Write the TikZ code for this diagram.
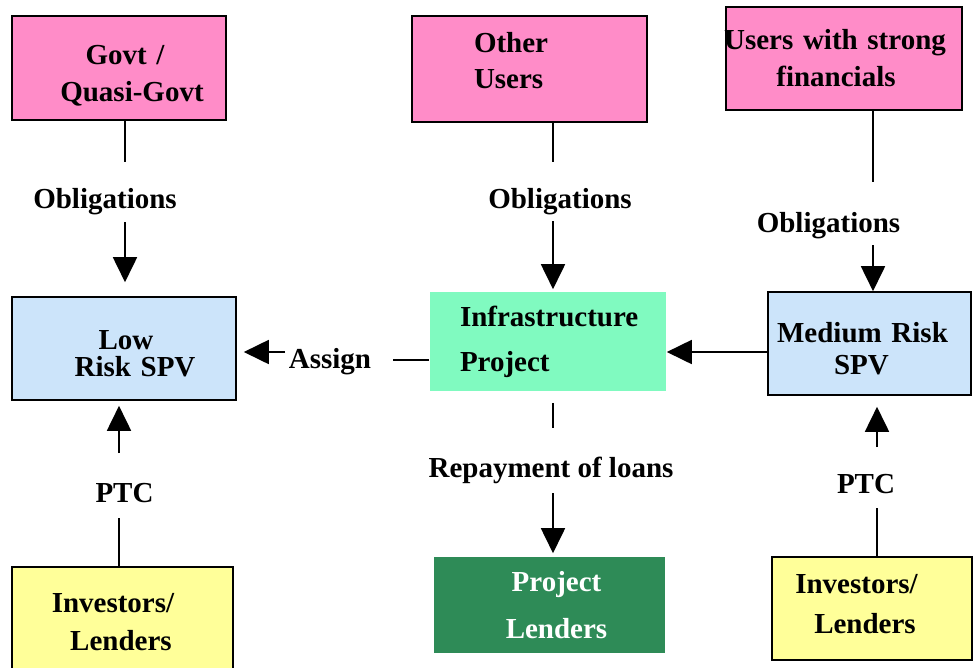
\documentclass[tikz,border=0pt]{standalone}
\usepackage{fontspec}
\setmainfont{Liberation Serif}
\usetikzlibrary{arrows.meta}
\setlength{\parindent}{0pt}
\definecolor{pinkc}{RGB}{255,140,200}
\definecolor{bluec}{RGB}{204,228,250}
\definecolor{aquac}{RGB}{128,250,192}
\definecolor{darkg}{RGB}{46,139,87}
\definecolor{yellowc}{RGB}{255,255,153}
\newcommand{\upstrut}[1]{\rule{0pt}{#1}}
\newcommand{\downstrut}[1]{\rule[-#1]{0pt}{1pt}}
\begin{document}
\begin{tikzpicture}[x=1pt,y=-1pt,
  txt/.style={font=\bfseries\fontsize{29}{29}\selectfont},
  box/.style={txt, draw=black, line width=1.6pt, inner sep=0pt, align=center},
  lbl/.style={txt, anchor=base, inner sep=0pt},
  conn/.style={line width=1.8pt},
  arr/.style={conn, -{Triangle[length=25pt,width=24pt]}}]
\useasboundingbox[fill=white] (0,0) rectangle (973,667);

% boxes
\node[box, fill=pinkc, minimum width=214pt, minimum height=104pt, text width=214pt] (govt) at (119,68)
  {\hspace*{12pt}\upstrut{35pt}Govt /\\[8pt]\hspace*{26pt}Quasi-Govt};
\node[box, fill=pinkc, minimum width=235pt, minimum height=106pt, text width=235pt, align=left] (other) at (529.5,69)
  {\hspace*{62pt}Other\\[7pt]\hspace*{62pt}Users\downstrut{18pt}};
\node[box, fill=pinkc, minimum width=236pt, minimum height=103pt, text width=236pt] (strong) at (844,58.5)
  {\hspace*{-18pt}Users with strong\\[8pt]\hspace*{-16pt}financials};
\node[box, fill=bluec, minimum width=224pt, minimum height=103pt, text width=224pt] (low) at (124,348.5)
  {\hspace*{4pt}\upstrut{30pt}Low\\[-2pt]\hspace*{22pt}Risk SPV};
\node[box, draw=none, fill=aquac, minimum width=236pt, minimum height=99pt, text width=236pt, align=left] (infra) at (548,341.5)
  {\hspace*{30pt}Infrastructure\\[16pt]\hspace*{30pt}Project};
\node[box, fill=bluec, minimum width=203pt, minimum height=103pt, text width=203pt] (medium) at (869.5,343.5)
  {\hspace*{-14pt}\upstrut{30pt}Medium Risk\\[3pt]\hspace*{-16pt}SPV};
\node[box, fill=yellowc, minimum width=221pt, minimum height=110pt, text width=221pt] (invL) at (122.5,622)
  {\hspace*{-19pt}Investors/\\[9pt]\hspace*{-3pt}Lenders};
\node[box, draw=none, fill=darkg, text=white, minimum width=231pt, minimum height=96pt, text width=231pt] (lenders) at (549.5,605)
  {\hspace*{14pt}Project\\[18pt]\hspace*{14pt}Lenders};
\node[box, fill=yellowc, minimum width=200pt, minimum height=103pt, text width=200pt] (invR) at (872,608.5)
  {\hspace*{-31pt}Investors/\\[11pt]\hspace*{-14pt}Lenders\downstrut{10pt}};

% labels
\node[lbl] (ob1) at (105,208) {Obligations};
\node[lbl] (ob2) at (560,208) {Obligations};
\node[lbl] (ob3) at (828.5,232) {Obligations};
\node[lbl] (asg) at (330,368) {Assign};
\node[lbl] (rep) at (551,477) {Repayment of loans};
\node[lbl] (ptc1) at (124.5,502) {PTC};
\node[lbl] (ptc2) at (866,493) {PTC};

% connector points
\coordinate (a1) at (125,162);
\coordinate (b1) at (125,222);
\coordinate (a2) at (553,162);
\coordinate (b2) at (553,221);
\coordinate (a3) at (873,182);
\coordinate (b3) at (873,245);
\coordinate (g4) at (393,360);
\coordinate (h4) at (285,352);
\coordinate (m5) at (0,352);
\coordinate (j6) at (553,428);
\coordinate (k6) at (553,493);
\coordinate (p1) at (119,518);
\coordinate (q1) at (119,453);
\coordinate (p2) at (877,508);
\coordinate (q2) at (877,447);

% connectors
\draw[conn] (govt.south -| a1) -- (a1);
\draw[arr, shorten >=14pt] (b1) -- (low.north -| b1);
\draw[conn] (other.south -| a2) -- (a2);
\draw[arr, shorten >=2pt] (b2) -- (infra.north -| b2);
\draw[conn] (strong.south -| a3) -- (a3);
\draw[arr] (b3) -- (medium.north -| b3);
\draw[conn] (infra.west |- g4) -- (g4);
\draw[arr, shorten >=7pt] (h4) -- (low.east |- h4);
\draw[arr] (medium.west |- m5) -- (infra.east |- m5);
\draw[conn, shorten <=11pt] (infra.south -| j6) -- (j6);
\draw[arr, shorten >=3pt] (k6) -- (lenders.north -| k6);
\draw[conn] (invL.north -| p1) -- (p1);
\draw[arr, shorten >=5pt] (q1) -- (low.south -| q1);
\draw[conn] (invR.north -| p2) -- (p2);
\draw[arr, shorten >=11pt] (q2) -- (medium.south -| q2);
\end{tikzpicture}
\end{document}
